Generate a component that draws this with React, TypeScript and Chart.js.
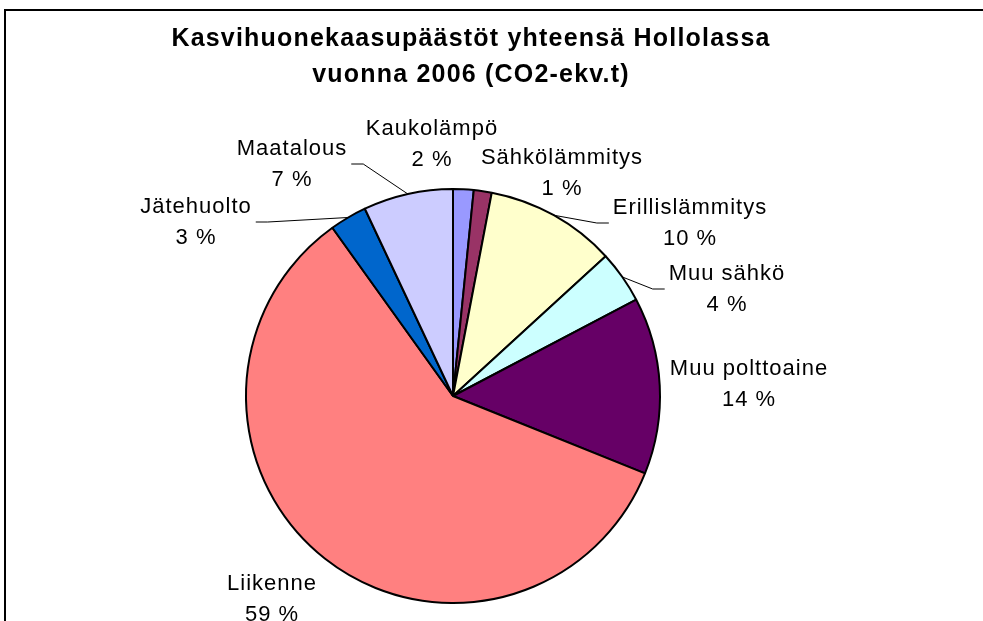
import React, { useEffect, useRef } from "react";
import { Chart, registerables } from "chart.js";

Chart.register(...registerables);

const TITLE_LINES = ["Kasvihuonekaasupäästöt yhteensä Hollolassa", "vuonna 2006 (CO2-ekv.t)"];

const categories = [
  "Kaukolämpö",
  "Sähkölämmitys",
  "Erillislämmitys",
  "Muu sähkö",
  "Muu polttoaine",
  "Liikenne",
  "Jätehuolto",
  "Maatalous",
];

// share of total emissions (%)
const values = [1.6, 1.4, 10.2, 4.1, 13.8, 59.0, 2.9, 7.0];

const colors = ["#9999FF", "#993366", "#FFFFCC", "#CCFFFF", "#660066", "#FF8080", "#0066CC", "#CCCCFF"];

// label placement relative to the pie centre: [dx of text centre, dy of first baseline]
const labelOffsets: [number, number][] = [
  [-21, -261],
  [109, -232],
  [237, -182],
  [274, -116],
  [296, -21],
  [-181, 194],
  [-257, -183],
  [-161, -241],
];
const hasLeader = [false, false, true, true, false, false, true, true];

const LABEL_FONT = '22px "Liberation Sans", Arial, sans-serif';
const TITLE_FONT = 'bold 25px "Liberation Sans", Arial, sans-serif';

const decorPlugin = {
  id: "decor",
  beforeDraw(chart: any) {
    const ctx = chart.ctx;
    ctx.save();
    ctx.strokeStyle = "#000";
    ctx.lineWidth = 2;
    ctx.beginPath();
    ctx.moveTo(5, 700);
    ctx.lineTo(5, 10);
    ctx.lineTo(1000, 10);
    ctx.stroke();
    ctx.restore();
  },
  afterDraw(chart: any) {
    const ctx = chart.ctx;
    ctx.save();
    // title
    ctx.fillStyle = "#000";
    ctx.font = TITLE_FONT;
    (ctx as any).letterSpacing = "1.2px";
    ctx.textAlign = "center";
    ctx.textBaseline = "alphabetic";
    TITLE_LINES.forEach((t, i) => ctx.fillText(t, 471, 46 + i * 36));

    // data labels
    const meta = chart.getDatasetMeta(0);
    const data = chart.data.datasets[0].data as number[];
    const total = data.reduce((a, b) => a + b, 0);
    ctx.font = LABEL_FONT;
    (ctx as any).letterSpacing = "1px";
    meta.data.forEach((arc: any, i: number) => {
      const { x, y, startAngle, endAngle, outerRadius } = arc.getProps(
        ["x", "y", "startAngle", "endAngle", "outerRadius"],
        true
      );
      const lx = x + labelOffsets[i][0];
      const ly = y + labelOffsets[i][1];
      const name = chart.data.labels[i] as string;
      const pct = Math.round((data[i] / total) * 100) + " %";
      ctx.fillStyle = "#000";
      ctx.fillText(name, lx, ly);
      ctx.fillText(pct, lx, ly + 31);
      if (hasLeader[i]) {
        const w = Math.max(ctx.measureText(name).width, ctx.measureText(pct).width);
        const mid = (startAngle + endAngle) / 2;
        const ex = x + Math.cos(mid) * outerRadius;
        const ey = y + Math.sin(mid) * outerRadius;
        const dir = lx < x ? 1 : -1;
        const sx = lx + dir * (w / 2 + 4);
        const sy = ly + 9;
        ctx.strokeStyle = "#000";
        ctx.lineWidth = 1;
        ctx.beginPath();
        ctx.moveTo(sx, sy);
        ctx.lineTo(sx + dir * 12, sy);
        ctx.lineTo(ex, ey);
        ctx.stroke();
      }
    });
    ctx.restore();
  },
};

export default function App() {
  const ref = useRef<HTMLCanvasElement | null>(null);

  useEffect(() => {
    if (!ref.current) return;
    const chart = new Chart(ref.current, {
      type: "pie",
      data: {
        labels: categories,
        datasets: [
          {
            data: values,
            backgroundColor: colors,
            borderColor: "#000",
            borderWidth: 2,
            hoverOffset: 0,
            offset: 0,
          },
        ],
      },
      options: {
        responsive: false,
        animation: false,
        layout: { padding: { left: 245, right: 322, top: 188, bottom: 17 } },
        plugins: {
          legend: { display: false },
          title: { display: false },
          tooltip: { enabled: false },
        },
      },
      plugins: [decorPlugin],
    });
    return () => chart.destroy();
  }, []);

  return (
    <div style={{ position: "fixed", left: 0, top: 0, width: 983, height: 621, background: "#fff", overflow: "hidden" }}>
      <canvas ref={ref} width={983} height={621} style={{ display: "block" }} />
    </div>
  );
}
